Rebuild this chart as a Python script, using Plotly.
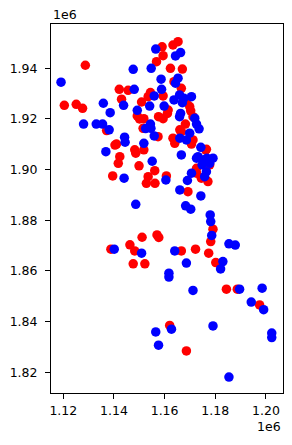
import plotly.graph_objects as go

# Easting / northing of the two point groups (metres)
red_x = [1128700, 1120400, 1125100, 1127600, 1142100, 1145600, 1143000, 1150900, 1149200, 1150100,
         1151800, 1157400, 1141000, 1159000, 1159400, 1156800, 1162300, 1167000, 1163300, 1165300,
         1163700, 1154400, 1159400, 1168600, 1161400, 1157600, 1159400, 1161100, 1170300, 1171200,
         1168200, 1166600, 1164000, 1170600, 1176500, 1140400, 1142300, 1141700, 1148200, 1151800,
         1148600, 1149900, 1139500, 1156100, 1153500, 1152800, 1156200, 1160700, 1176200, 1177800,
         1172600, 1174500, 1177100, 1172600, 1169200, 1179100, 1178200, 1177400, 1180200, 1138800,
         1146300, 1148200, 1147600, 1152200, 1151100, 1157000, 1157700, 1166600, 1172200, 1184400,
         1188700, 1197500, 1162000, 1168600, 1153500, 1166600, 1169900, 1163300, 1171200, 1166000,
         1151500, 1137100]
red_y = [1941200, 1925400, 1925800, 1924200, 1931700, 1931300, 1927800, 1926700, 1921200, 1920000,
         1920100, 1913000, 1910100, 1948500, 1945000, 1942600, 1940000, 1939700, 1949200, 1950500,
         1934700, 1930400, 1929100, 1927500, 1923500, 1920900, 1920100, 1922200, 1923200, 1920900,
         1918000, 1915000, 1910400, 1910100, 1908000, 1909700, 1905100, 1902500, 1907800, 1907800,
         1906500, 1901500, 1897500, 1899600, 1897200, 1894600, 1894600, 1897500, 1907800, 1901900,
         1900500, 1896600, 1895300, 1898600, 1891300, 1876500, 1871600, 1867000, 1863300, 1868600,
         1870300, 1867900, 1862800, 1862800, 1873300, 1874200, 1873200, 1867900, 1868600, 1852800,
         1852800, 1846600, 1838500, 1828400, 1928800, 1932100, 1924900, 1912400, 1911700, 1915700,
         1916300, 1915400]

blue_x = [1119100, 1128000, 1133000, 1135500, 1138100, 1135800, 1138500, 1147600, 1148000, 1143800,
          1149200, 1152500, 1154400, 1155900, 1144200, 1144400, 1151800, 1156500, 1154700, 1164300,
          1166300, 1158600, 1165300, 1164300, 1158800, 1155900, 1165900, 1170600, 1163700, 1167000,
          1154100, 1159800, 1166300, 1171900, 1172600, 1173600, 1169900, 1166000, 1168600, 1174300,
          1136800, 1155100, 1144000, 1160500, 1166600, 1169000, 1170600, 1166000, 1174300, 1168300,
          1170300, 1148600, 1172600, 1175200, 1176700, 1179100, 1174800, 1177800, 1176500, 1175800,
          1178000, 1178200, 1178600, 1183000, 1182100, 1185400, 1187900, 1140100, 1150900, 1164000,
          1168600, 1161700, 1161700, 1171200, 1189600, 1198500, 1194200, 1199100, 1162700, 1156500,
          1157600, 1179100, 1202300, 1202300, 1185400, 1167600, 1154600, 1165900, 1173200]
blue_y = [1934500, 1918000, 1918000, 1918000, 1915700, 1926200, 1922500, 1939600, 1931700, 1925400,
          1923400, 1916200, 1918000, 1913300, 1912800, 1910800, 1910400, 1947600, 1940000, 1944900,
          1946200, 1935700, 1936100, 1934100, 1931700, 1929100, 1929500, 1928800, 1927500, 1926400,
          1925100, 1925100, 1922200, 1920300, 1918000, 1916100, 1914400, 1912400, 1911700, 1908800,
          1907100, 1903300, 1896600, 1895900, 1905800, 1895700, 1898600, 1892000, 1889600, 1885700,
          1884400, 1886300, 1904500, 1903800, 1904500, 1904500, 1901900, 1902500, 1899200, 1897200,
          1882100, 1879500, 1874000, 1863700, 1860800, 1870700, 1870200, 1868600, 1867000, 1867900,
          1863100, 1859100, 1857600, 1852300, 1852800, 1853200, 1847700, 1844700, 1837000, 1835900,
          1830700, 1838300, 1835500, 1833700, 1818100, 1928200, 1916300, 1920900, 1905100]

x_ticks = [1120000, 1140000, 1160000, 1180000, 1200000]
x_tick_labels = ["1.12", "1.14", "1.16", "1.18", "1.20"]
y_ticks = [1820000, 1840000, 1860000, 1880000, 1900000, 1920000, 1940000]
y_tick_labels = ["1.82", "1.84", "1.86", "1.88", "1.90", "1.92", "1.94"]

FONT = "DejaVu Sans"

fig = go.Figure()
fig.add_trace(go.Scatter(x=red_x, y=red_y, mode="markers",
                         marker=dict(color="red", size=9.5, line=dict(width=0)),
                         showlegend=False, hoverinfo="skip"))
fig.add_trace(go.Scatter(x=blue_x, y=blue_y, mode="markers",
                         marker=dict(color="blue", size=9.5, line=dict(width=0)),
                         showlegend=False, hoverinfo="skip"))

axis_common = dict(showgrid=False, zeroline=False, showline=True, linecolor="black",
                   linewidth=1, mirror=True, ticks="outside", ticklen=5, tickwidth=1,
                   tickcolor="black", tickfont=dict(family=FONT, size=12.5, color="black"))

fig.update_xaxes(range=[1115140, 1206740], tickvals=x_ticks, ticktext=x_tick_labels,
                 ticklabelstandoff=1, **axis_common)
fig.update_yaxes(range=[1811810, 1957490], tickvals=y_ticks, ticktext=y_tick_labels,
                 ticklabelstandoff=5, **axis_common)

fig.add_annotation(text="1e6", xref="paper", yref="paper", x=0, y=1.0244,
                   xanchor="left", yanchor="middle", showarrow=False,
                   font=dict(family=FONT, size=12.5, color="black"))
fig.add_annotation(text="1e6", xref="paper", yref="paper", x=1, y=-0.0921,
                   xanchor="right", yanchor="middle", showarrow=False,
                   font=dict(family=FONT, size=12.5, color="black"))

fig.update_layout(width=292, height=445, margin=dict(l=51, r=9, t=24, b=52),
                  paper_bgcolor="white", plot_bgcolor="white",
                  font=dict(family=FONT, color="black"))

fig.write_html("out.html")
